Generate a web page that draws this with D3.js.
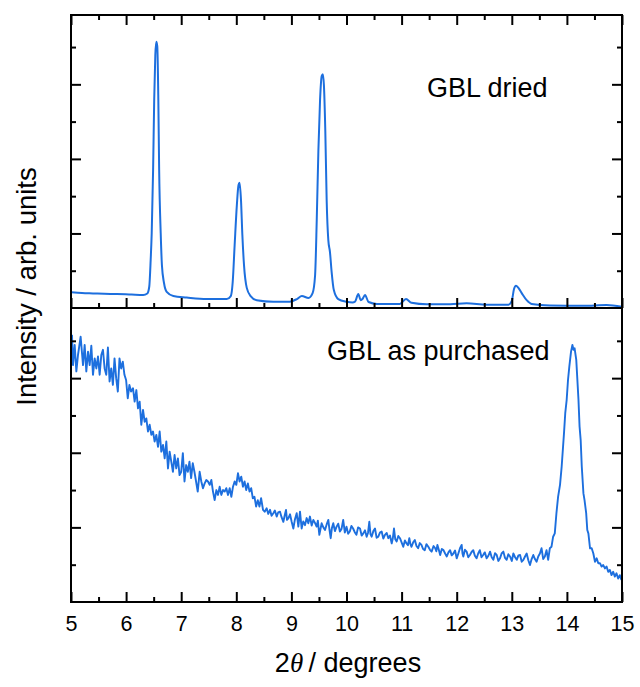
<!DOCTYPE html>
<html>
<head>
<meta charset="utf-8">
<script src="https://cdn.jsdelivr.net/npm/d3@7"></script>
<style>
  html, body { margin: 0; padding: 0; background: #fff; }
  svg { display: block; }
  text { font-family: "Liberation Sans", Arial, sans-serif; fill: #000; }
</style>
</head>
<body>
<svg id="chart" width="640" height="687"></svg>
<script>
// ---------- data ----------
const xTicks = [5, 6, 7, 8, 9, 10, 11, 12, 13, 14, 15];
const xMinorTicks = [5.5, 6.5, 7.5, 8.5, 9.5, 10.5, 11.5, 12.5, 13.5, 14.5];
const yMajorTicks = [2, 4, 6];
const yMinorTicks = [1, 3, 5, 7];
const xLabel = "degrees";
const yLabel = "Intensity / arb. units";
const topLabel = "GBL dried";
const bottomLabel = "GBL as purchased";

// GBL dried: [2theta, intensity]
const driedPoints = [
  [5.01,0.42],[5.2,0.40],[5.40,0.39],[5.6,0.38],[5.83,0.375],[6.1,0.36],[6.31,0.35],
  [6.385,0.39],[6.42,0.57],[6.446,1.29],[6.465,2.01],[6.49,3.7],[6.51,5.58],[6.53,6.78],
  [6.548,7.14],[6.566,7.02],[6.585,5.58],[6.60,3.7],[6.628,2.01],[6.65,1.15],[6.688,0.67],
  [6.737,0.43],[6.857,0.32],[7.10,0.28],[7.46,0.24],[7.826,0.24],[7.90,0.32],[7.935,0.70],
  [7.97,1.69],[8.01,2.76],[8.04,3.30],[8.06,3.36],[8.085,2.9],[8.11,1.96],[8.14,1.15],
  [8.19,0.54],[8.26,0.32],[8.37,0.21],[8.67,0.17],[8.97,0.17],[9.10,0.24],[9.19,0.32],
  [9.31,0.27],[9.385,0.40],[9.43,0.88],[9.46,2.36],[9.49,4.24],[9.52,5.58],[9.55,6.22],
  [9.57,6.27],[9.59,5.98],[9.615,4.77],[9.64,2.9],[9.67,1.82],[9.70,1.50],[9.73,0.97],
  [9.77,0.48],[9.85,0.24],[10.00,0.17],[10.11,0.15],[10.155,0.17],[10.214,0.375],[10.258,0.21],
  [10.29,0.24],[10.336,0.35],[10.40,0.16],[10.55,0.11],[10.97,0.11],[11.08,0.24],[11.18,0.14],
  [11.455,0.10],[11.88,0.10],[12.18,0.125],[12.545,0.09],[12.94,0.09],[13.00,0.19],[13.04,0.51],
  [13.076,0.60],[13.12,0.54],[13.18,0.40],[13.27,0.21],[13.36,0.11],[13.69,0.07],[14.30,0.06],
  [14.72,0.08],[15.00,0.035]
];

// GBL as purchased: [2theta, intensity]
const purchasedPoints = [
  [5.018,7.16],[5.036,6.35],[5.067,6.89],[5.097,6.18],[5.127,6.62],[5.175,7.11],[5.218,6.35],[5.248,6.89],
  [5.278,6.18],[5.309,6.71],[5.339,6.35],[5.369,6.87],[5.399,6.09],[5.43,6.53],[5.46,6.26],[5.49,6.58],
  [5.52,6.09],[5.55,6.62],[5.58,6.76],[5.61,6.26],[5.64,6.09],[5.67,6.82],[5.70,5.91],[5.73,6.26],
  [5.76,5.82],[5.79,6.53],[5.82,6.0],[5.85,5.64],[5.88,6.53],[5.91,6.26],[5.94,6.44],[5.97,6.09],
  [6.00,5.95],[6.03,5.46],[6.06,5.82],[6.09,5.64],[6.125,5.73],[6.155,5.37],[6.186,5.68],[6.216,5.19],
  [6.246,5.37],[6.276,4.75],[6.307,5.15],[6.337,4.83],[6.367,4.92],[6.397,4.57],[6.428,4.75],[6.458,4.48],
  [6.488,4.57],[6.518,4.30],[6.549,4.48],[6.579,4.16],[6.609,4.57],[6.639,4.03],[6.67,4.21],[6.70,3.85],
  [6.73,4.30],[6.76,3.58],[6.79,4.03],[6.82,3.76],[6.85,3.49],[6.88,3.94],[6.91,3.58],[6.94,3.85],
  [6.97,3.40],[7.00,3.49],[7.03,3.99],[7.06,3.23],[7.09,3.67],[7.12,3.49],[7.15,3.76],[7.18,3.32],
  [7.21,3.72],[7.24,3.49],[7.27,3.23],[7.30,2.96],[7.335,3.49],[7.365,3.23],[7.395,3.05],[7.426,3.18],
  [7.456,3.27],[7.486,3.23],[7.517,3.14],[7.547,3.27],[7.577,2.96],[7.607,2.73],[7.638,3.00],[7.668,2.87],
  [7.698,3.09],[7.728,2.87],[7.759,3.00],[7.789,2.96],[7.819,3.05],[7.849,2.87],[7.88,3.05],[7.91,2.82],
  [7.94,3.09],[7.97,3.23],[8.00,3.14],[8.03,3.45],[8.06,3.23],[8.09,3.36],[8.12,3.09],[8.15,3.23],
  [8.18,3.00],[8.21,3.18],[8.24,2.96],[8.27,3.05],[8.30,2.78],[8.33,2.82],[8.36,2.56],[8.39,2.73],
  [8.42,2.56],[8.45,2.78],[8.485,2.47],[8.515,2.42],[8.551,2.51],[8.58,2.36],[8.612,2.47],[8.64,2.31],
  [8.672,2.38],[8.70,2.45],[8.733,2.29],[8.76,2.40],
  [8.793,2.42],[8.82,2.28],[8.854,2.15],[8.88,2.33],[8.902,2.47],[8.92,2.20],[8.944,2.24],[8.975,2.35],
  [9.005,2.15],[9.035,1.97],[9.065,2.22],[9.096,2.38],[9.126,2.02],
  [9.156,2.42],[9.186,1.97],[9.215,2.16],[9.247,2.06],[9.277,2.25],[9.307,2.11],[9.337,2.29],[9.368,2.05],
  [9.398,2.20],[9.428,2.12],[9.458,2.02],[9.48,2.18],[9.507,1.80],
  [9.549,2.11],[9.58,2.00],[9.61,1.93],[9.64,2.08],[9.67,2.20],[9.69,1.95],[9.713,1.71],[9.735,1.98],
  [9.76,2.11],[9.79,1.90],[9.82,2.02],[9.85,2.10],[9.88,1.89],[9.91,1.96],[9.94,2.20],[9.97,1.86],
  [10.00,2.02],[10.03,1.83],[10.06,1.89],[10.09,2.04],[10.12,1.97],[10.15,1.87],[10.18,1.80],[10.21,2.00],
  [10.245,1.97],[10.275,1.78],[10.305,1.84],[10.335,1.92],[10.366,1.75],[10.39,1.85],[10.414,2.15],[10.435,1.82],
  [10.456,1.75],[10.487,1.90],[10.517,1.97],[10.547,1.72],[10.577,1.75],[10.607,1.86],[10.638,1.89],[10.668,1.70],
  [10.698,1.80],[10.73,1.85],[10.759,1.71],[10.79,1.78],[10.82,1.57],[10.84,1.70],[10.862,1.97],[10.885,1.68],
  [10.91,1.62],[10.94,1.77],[10.97,1.71],[11.00,1.60],[11.03,1.48],[11.06,1.65],[11.09,1.57],[11.115,1.52],
  [11.14,1.71],[11.16,1.55],[11.18,1.48],[11.21,1.60],[11.24,1.66],[11.27,1.50],[11.30,1.44],[11.33,1.58],
  [11.36,1.53],[11.39,1.42],[11.42,1.39],[11.45,1.55],[11.485,1.48],[11.515,1.40],[11.545,1.35],[11.58,1.50],
  [11.61,1.44],[11.63,1.36],[11.65,1.53],[11.675,1.40],[11.70,1.26],[11.73,1.42],[11.76,1.39],[11.79,1.30],
  [11.82,1.22],[11.85,1.33],[11.88,1.39],[11.91,1.25],[11.94,1.30],[11.97,1.38],[12.00,1.17],[12.03,1.30],
  [12.06,1.44],[12.09,1.53],[12.105,1.30],[12.12,1.22],[12.15,1.40],[12.18,1.35],[12.21,1.20],
  [12.24,1.26],[12.27,1.34],[12.30,1.39],[12.33,1.24],[12.36,1.17],[12.39,1.30],[12.42,1.39],[12.45,1.20],
  [12.48,1.26],[12.51,1.33],[12.544,1.17],[12.575,1.24],[12.605,1.35],[12.635,1.20],[12.665,1.13],[12.695,1.31],
  [12.726,1.26],[12.756,1.10],[12.786,1.17],[12.815,1.30],[12.847,1.35],[12.877,1.18],[12.907,1.13],[12.937,1.28],
  [12.968,1.22],[13.0,1.10],[13.028,1.30],[13.06,1.20],[13.09,1.13],[13.12,1.25],[13.15,1.26],[13.18,1.08],
  [13.21,1.13],[13.24,1.22],[13.27,1.30],[13.30,1.12],[13.33,0.99],[13.36,1.15],[13.39,1.26],[13.42,1.15],
  [13.45,1.08],[13.48,1.22],[13.51,1.30],[13.54,1.44],[13.57,1.15],[13.60,1.22],
  [13.63,1.39],[13.66,1.13],[13.69,1.44],[13.72,1.48],[13.75,1.75],[13.78,1.84],[13.81,2.38],[13.84,2.82],
  [13.875,3.14],[13.905,3.63],[13.947,4.52],[13.97,5.06],[13.996,5.42],[14.02,5.95],[14.044,6.31],[14.075,6.71],
  [14.10,6.89],[14.12,6.76],[14.14,6.80],[14.17,6.49],[14.21,5.42],[14.23,4.70],[14.25,4.34],[14.27,3.63],
  [14.30,2.91],[14.32,2.73],[14.35,2.38],[14.37,1.93],[14.39,1.84],[14.42,1.44],[14.45,1.44],[14.48,1.30],
  [14.51,1.08],[14.54,1.17],[14.57,1.04],[14.60,1.04],[14.63,0.95],[14.66,0.99],[14.69,0.90],[14.72,0.95],
  [14.75,0.81],[14.78,0.86],[14.81,0.72],[14.84,0.81],[14.87,0.68],[14.90,0.77],[14.93,0.63],[14.96,0.72],
  [14.99,0.59]
];

// ---------- layout ----------
const svg = d3.select("#chart");
const padL = 71, padR = 622, padT = 15, padM = 308, padB = 602;
const lineColor = "#1d6fde";

const x = d3.scaleLinear().domain([5, 15]).range([padL, padR]);
const yTop = d3.scaleLinear().domain([0, 7.86]).range([padM, padT]);
const yBot = d3.scaleLinear().domain([0, 7.88]).range([padB, padM]);

// clip paths
const defs = svg.append("defs");
defs.append("clipPath").attr("id", "clipTop").append("rect")
  .attr("x", padL).attr("y", padT).attr("width", padR - padL).attr("height", padM - padT);
defs.append("clipPath").attr("id", "clipBot").append("rect")
  .attr("x", padL).attr("y", padM).attr("width", padR - padL).attr("height", padB - padM);

// data lines
const lineTop = d3.line().x(d => x(d[0])).y(d => yTop(d[1])).curve(d3.curveMonotoneX);
const lineBot = d3.line().x(d => x(d[0])).y(d => yBot(d[1]));

svg.append("path").datum(driedPoints)
  .attr("clip-path", "url(#clipTop)")
  .attr("d", lineTop).attr("fill", "none")
  .attr("stroke", lineColor).attr("stroke-width", 2).attr("stroke-linejoin", "round");

svg.append("path").datum(purchasedPoints)
  .attr("clip-path", "url(#clipBot)")
  .attr("d", lineBot).attr("fill", "none")
  .attr("stroke", lineColor).attr("stroke-width", 1.9).attr("stroke-linejoin", "round");

// axes helper
function styleAxis(g) {
  g.select(".domain").remove();
  g.selectAll(".tick line").attr("stroke", "#000").attr("stroke-width", 2);
}

// top panel x ticks (top edge and bottom edge, inward)
[[d3.axisTop, padT, -10, xTicks], [d3.axisTop, padT, -5, xMinorTicks],
 [d3.axisBottom, padM, -10, xTicks], [d3.axisBottom, padM, -5, xMinorTicks]].forEach(([ax, yy, sz, tv]) => {
  svg.append("g").attr("transform", `translate(0,${yy})`)
    .call(ax(x).tickValues(tv).tickSize(sz).tickFormat(""))
    .call(styleAxis);
});

// bottom panel x axis with labels
svg.append("g").attr("transform", `translate(0,${padB})`)
  .call(d3.axisBottom(x).tickValues(xMinorTicks).tickSize(-5).tickFormat(""))
  .call(styleAxis);
const xAxisG = svg.append("g").attr("transform", `translate(0,${padB})`)
  .call(d3.axisBottom(x).tickValues(xTicks).tickSize(-10).tickPadding(14).tickFormat(d3.format("d")))
  .call(styleAxis);
xAxisG.selectAll("text")
  .style("font-family", "'Liberation Sans', Arial, sans-serif")
  .style("font-size", "21.5px").attr("fill", "#000");

// y ticks on both panels, both sides
[yTop, yBot].forEach(ys => {
  [[d3.axisLeft, padL], [d3.axisRight, padR]].forEach(([ax, xx]) => {
    svg.append("g").attr("transform", `translate(${xx},0)`)
      .call(ax(ys).tickValues(yMajorTicks).tickSize(-10).tickFormat(""))
      .call(styleAxis);
    svg.append("g").attr("transform", `translate(${xx},0)`)
      .call(ax(ys).tickValues(yMinorTicks).tickSize(-5).tickFormat(""))
      .call(styleAxis);
  });
});

// frames
svg.append("rect").attr("x", padL).attr("y", padT).attr("width", padR - padL).attr("height", padB - padT)
  .attr("fill", "none").attr("stroke", "#000").attr("stroke-width", 2);
svg.append("line").attr("x1", padL).attr("x2", padR).attr("y1", padM).attr("y2", padM)
  .attr("stroke", "#000").attr("stroke-width", 2);

// panel labels
svg.append("text").attr("x", 427).attr("y", 97)
  .style("font-size", "27px").text(topLabel);
svg.append("text").attr("x", 327).attr("y", 360)
  .style("font-size", "27px").text(bottomLabel);

// x axis title
const xt = svg.append("text").attr("x", 348).attr("y", 672)
  .attr("text-anchor", "middle").style("font-size", "27px");
xt.append("tspan").text("2");
xt.append("tspan").style("font-family", "'Liberation Serif', 'DejaVu Serif', serif")
  .style("font-style", "italic").text("\u03B8");
xt.append("tspan").text("\u2009/ " + xLabel);

// y axis title
svg.append("text")
  .attr("transform", `translate(36,${(padT + padB) / 2 - 22}) rotate(-90)`)
  .attr("text-anchor", "middle").style("font-size", "27.5px").text(yLabel);
</script>
</body>
</html>
